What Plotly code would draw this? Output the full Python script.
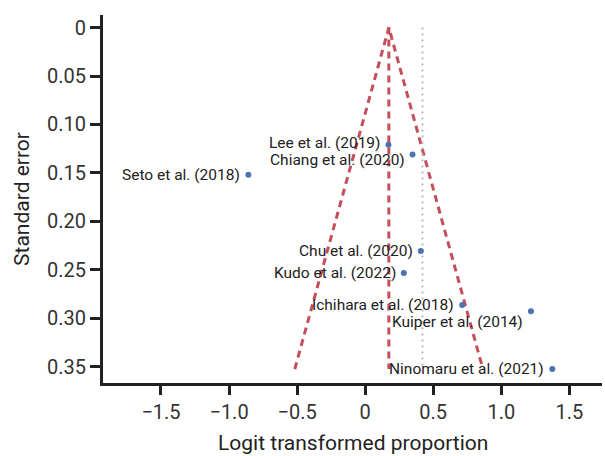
import plotly.graph_objects as go

studies = ["Lee et al. (2019)", "Chiang et al. (2020)", "Seto et al. (2018)", "Chu et al. (2020)",
           "Kudo et al. (2022)", "Ichihara et al. (2018)", "Kuiper et al. (2014)", "Ninomaru et al. (2021)"]
logit_prop = [0.171, 0.348, -0.858, 0.409, 0.284, 0.713, 1.218, 1.375]
std_err = [0.121, 0.131, 0.152, 0.2307, 0.2534, 0.2865, 0.293, 0.3526]
label_dy = [2, -6, 0, 0, 0, 0, -11, 0]
pooled = 0.174
reference_line = 0.421
se_max = 0.3526
z = 1.96

y_ticks = [0, 0.05, 0.10, 0.15, 0.20, 0.25, 0.30, 0.35]
y_ticktext = ["0", "0.05", "0.10", "0.15", "0.20", "0.25", "0.30", "0.35"]
x_ticks = [-1.5, -1.0, -0.5, 0, 0.5, 1.0, 1.5]
x_ticktext = ["\u22121.5", "\u22121.0", "\u22120.5", "0", "0.5", "1.0", "1.5"]

FONT = "Roboto, Arial, sans-serif"
RED = "#c44e5a"
BLUE = "#4c72b0"

fig = go.Figure()
fig.add_trace(go.Scatter(x=[pooled - z * se_max, pooled, pooled + z * se_max], y=[se_max, 0, se_max],
                         mode="lines", line=dict(color=RED, width=3, dash="7px,5px"), hoverinfo="skip"))
fig.add_trace(go.Scatter(x=[pooled, pooled], y=[0, se_max], mode="lines",
                         line=dict(color=RED, width=3, dash="7px,5px"), hoverinfo="skip"))
fig.add_trace(go.Scatter(x=[reference_line, reference_line], y=[0, se_max], mode="lines",
                         line=dict(color="#bbbbbb", width=2, dash="2px,4px"), hoverinfo="skip"))
fig.add_trace(go.Scatter(x=logit_prop, y=std_err, mode="markers",
                         marker=dict(color=BLUE, size=6), hoverinfo="skip"))

for s, xv, yv, dy in zip(studies, logit_prop, std_err, label_dy):
    fig.add_annotation(x=xv, y=yv, text=s, showarrow=False, xanchor="right", yanchor="middle",
                       xshift=-6, yshift=dy, font=dict(family=FONT, size=15.5, color="#222222"))

# x-axis title placed as a paper annotation below the tick labels
fig.add_annotation(x=0.5, y=0, xref="paper", yref="paper", text="Logit transformed proportion",
                   showarrow=False, xanchor="center", yanchor="middle", yshift=-60,
                   font=dict(family=FONT, size=21, color="#222222"))

fig.update_layout(
    width=605, height=456, showlegend=False,
    margin=dict(l=103, r=3, t=15, b=73),
    plot_bgcolor="white", paper_bgcolor="white",
    font=dict(family=FONT, color="#222222"),
)
fig.update_xaxes(range=[-1.926, 1.74], tickvals=x_ticks, ticktext=x_ticktext, automargin=False,
                 showline=True, linecolor="#222222", linewidth=3, ticks="outside", ticklen=9,
                 tickwidth=3, tickcolor="#222222", showgrid=False, zeroline=False,
                 tickfont=dict(family=FONT, size=20, color="#333333"))
fig.update_yaxes(range=[0.367, -0.013], tickvals=y_ticks, ticktext=y_ticktext,
                 showline=True, linecolor="#222222", linewidth=3, ticks="outside", ticklen=10,
                 tickwidth=3, tickcolor="#222222", showgrid=False, zeroline=False,
                 tickfont=dict(family=FONT, size=20, color="#333333"),
                 title=dict(text="Standard error", font=dict(family=FONT, size=21, color="#222222"),
                            standoff=12))

fig.write_html("out.html", config={"displayModeBar": False},
               post_script="document.body.style.margin='0px';")
